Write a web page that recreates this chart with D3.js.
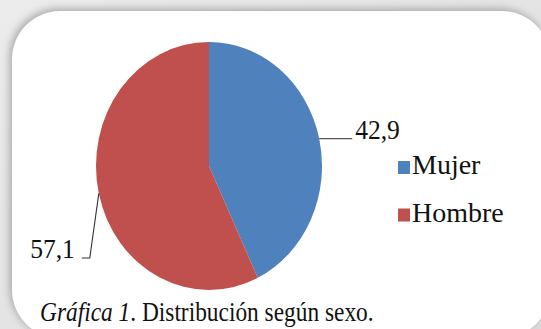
<!DOCTYPE html>
<html>
<head>
<meta charset="utf-8">
<script src="https://cdn.jsdelivr.net/npm/d3@7/dist/d3.min.js"></script>
<style>
  html, body { margin: 0; padding: 0; background: #ffffff; }
  svg { display: block; }
</style>
</head>
<body>
<svg id="chart" width="541" height="329"></svg>
<script>
// Distribution by sex
const categories = ["Mujer", "Hombre"];
const values = [42.9, 57.1];
const valueLabels = ["42,9", "57,1"];
const colors = ["#4F81BD", "#C0504D"];
const caption = { italic: "Gráfica 1", rest: ". Distribución según sexo." };

const W = 541, H = 329;
const FONT = '"Liberation Serif"';
const INK = "#111111";
const svg = d3.select("#chart");

// ---- panel background with soft shadow ----
const defs = svg.append("defs");
const bg = defs.append("linearGradient").attr("id", "bgGrad")
  .attr("x1", 0).attr("y1", 0).attr("x2", 1).attr("y2", 1);
bg.append("stop").attr("offset", "0%").attr("stop-color", "#ececec");
bg.append("stop").attr("offset", "100%").attr("stop-color", "#dcdcdc");
defs.append("filter").attr("id", "shadow")
  .attr("x", "-20%").attr("y", "-20%").attr("width", "140%").attr("height", "140%")
  .append("feGaussianBlur").attr("stdDeviation", 4);

svg.append("rect").attr("width", W).attr("height", H).attr("fill", "url(#bgGrad)");

const panel = { x: 12, y: 11, w: 538, h: 327, r: 48 };
svg.append("rect")
  .attr("x", panel.x - 2).attr("y", panel.y - 2)
  .attr("width", panel.w).attr("height", panel.h)
  .attr("rx", panel.r).attr("ry", panel.r)
  .attr("fill", "#a4a4a4").attr("filter", "url(#shadow)");
svg.append("rect")
  .attr("x", panel.x).attr("y", panel.y)
  .attr("width", panel.w).attr("height", panel.h)
  .attr("rx", panel.r).attr("ry", panel.r)
  .attr("fill", "#ffffff");

// ---- pie (slightly squashed horizontally) ----
const cx = 209, cy = 166, ry = 124, rx = 113;
const sx = rx / ry;

const pie = d3.pie().sort(null).value(d => d)(values);
const arc = d3.arc().innerRadius(0).outerRadius(ry);

const g = svg.append("g").attr("transform", `translate(${cx},${cy}) scale(${sx},1)`);
g.selectAll("path").data(pie).join("path")
  .attr("d", arc)
  .attr("fill", (d, i) => colors[i]);

// point on the pie edge at the middle of each slice
function edgePoint(d) {
  const a = (d.startAngle + d.endAngle) / 2;
  return [cx + rx * Math.sin(a), cy - ry * Math.cos(a)];
}

function styleText(sel, size) {
  return sel.style("font-family", FONT).style("font-size", size + "px").style("fill", INK);
}

// ---- data labels with leader lines ----
const lbl = svg.append("g");
const valueFont = 28, valueSx = 0.912;

// Mujer (right side)
{
  const [px, py] = edgePoint(pie[0]);
  lbl.append("path")
    .attr("d", `M${px},${py}H${px + 33}`)
    .attr("stroke", "#555").attr("stroke-width", 1.2).attr("fill", "none");
  styleText(lbl.append("text"), valueFont)
    .attr("transform", `translate(${px + 36},${py}) scale(${valueSx},1)`)
    .text(valueLabels[0]);
}
// Hombre (left side)
{
  const [px, py] = edgePoint(pie[1]);
  const ly = py + 64.5;
  lbl.append("path")
    .attr("d", `M${px},${py}L${px - 9},${ly}H${px - 17}`)
    .attr("stroke", "#333").attr("stroke-width", 1.1).attr("fill", "none");
  styleText(lbl.append("text"), valueFont)
    .attr("transform", `translate(${px - 24},${ly}) scale(${valueSx},1)`)
    .attr("text-anchor", "end")
    .text(valueLabels[1]);
}

// ---- legend ----
const legend = svg.append("g").attr("transform", "translate(398,0)");
const legendY = d3.scalePoint().domain(categories).range([174, 221.5]);
const items = legend.selectAll("g").data(categories).join("g")
  .attr("transform", d => `translate(0,${legendY(d)})`);
items.append("rect")
  .attr("x", 0).attr("y", -13).attr("width", 12).attr("height", 13)
  .attr("fill", (d, i) => colors[i]);
styleText(items.append("text"), 28)
  .attr("x", 14).attr("y", 0)
  .text(d => d);

// ---- caption ----
const cap = styleText(svg.append("text"), 28)
  .attr("transform", "translate(40,321) scale(0.835,1)");
cap.append("tspan").style("font-style", "italic").text(caption.italic);
cap.append("tspan").text(caption.rest);
</script>
</body>
</html>
